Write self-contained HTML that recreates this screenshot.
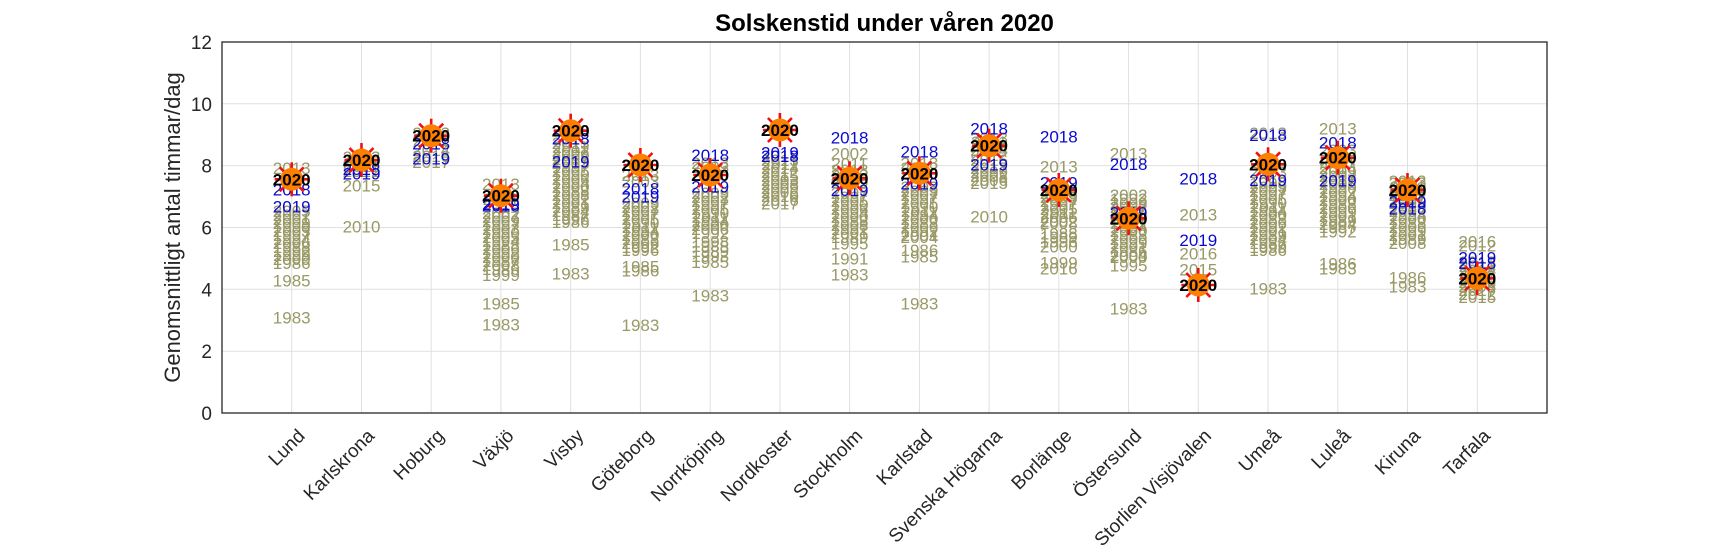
<!DOCTYPE html>
<html><head><meta charset="utf-8"><style>
html,body{margin:0;padding:0;background:#fff;width:1709px;height:557px;overflow:hidden}
svg{display:block}
text{font-family:"Liberation Sans",Helvetica,Arial,sans-serif}
.ol text{fill:#999966;font-size:17px;text-anchor:middle}
.bl text{fill:#0a0acf;font-size:17px;text-anchor:middle}
.yr text{fill:#000;font-size:17px;font-weight:bold;text-anchor:middle}
.xt text{fill:#262626;font-size:19px;text-anchor:end}
</style></head><body>
<svg width="1709" height="557" viewBox="0 0 1709 557" xmlns="http://www.w3.org/2000/svg">
<defs>
<g id="sun">
<g stroke="#f01010" stroke-width="2.6">
<line x1="-17" y1="0" x2="17" y2="0"/><line x1="0" y1="-17" x2="0" y2="17"/>
<line x1="-12" y1="-12" x2="12" y2="12"/><line x1="-12" y1="12" x2="12" y2="-12"/>
</g>
<circle r="11.5" fill="#ff7f00"/>
</g>
</defs>
<rect width="1709" height="557" fill="#fff"/>
<!-- grid -->
<g stroke="#e0e0e0" stroke-width="1">
<line x1="222" x2="1547" y1="351.2" y2="351.2"/><line x1="222" x2="1547" y1="289.3" y2="289.3"/>
<line x1="222" x2="1547" y1="227.5" y2="227.5"/><line x1="222" x2="1547" y1="165.6" y2="165.6"/>
<line x1="222" x2="1547" y1="103.8" y2="103.8"/>
<line y1="42" y2="413" x1="291.7" x2="291.7"/><line y1="42" y2="413" x1="361.5" x2="361.5"/>
<line y1="42" y2="413" x1="431.2" x2="431.2"/><line y1="42" y2="413" x1="500.9" x2="500.9"/>
<line y1="42" y2="413" x1="570.7" x2="570.7"/><line y1="42" y2="413" x1="640.4" x2="640.4"/>
<line y1="42" y2="413" x1="710.2" x2="710.2"/><line y1="42" y2="413" x1="779.9" x2="779.9"/>
<line y1="42" y2="413" x1="849.6" x2="849.6"/><line y1="42" y2="413" x1="919.4" x2="919.4"/>
<line y1="42" y2="413" x1="989.1" x2="989.1"/><line y1="42" y2="413" x1="1058.8" x2="1058.8"/>
<line y1="42" y2="413" x1="1128.6" x2="1128.6"/><line y1="42" y2="413" x1="1198.3" x2="1198.3"/>
<line y1="42" y2="413" x1="1268.1" x2="1268.1"/><line y1="42" y2="413" x1="1337.8" x2="1337.8"/>
<line y1="42" y2="413" x1="1407.5" x2="1407.5"/><line y1="42" y2="413" x1="1477.3" x2="1477.3"/>
</g>
<rect x="222" y="42" width="1325" height="371" fill="none" stroke="#262626" stroke-width="1.3"/>
<!-- y ticks -->
<g fill="#262626" font-size="19" text-anchor="end">
<text x="212" y="420">0</text><text x="212" y="358.2">2</text><text x="212" y="296.3">4</text>
<text x="212" y="234.5">6</text><text x="212" y="172.6">8</text><text x="212" y="110.8">10</text>
<text x="212" y="49">12</text>
</g>
<text transform="translate(180,227.5) rotate(-90)" text-anchor="middle" font-size="22" fill="#262626">Genomsnittligt antal timmar/dag</text>
<text x="884.5" y="31" text-anchor="middle" font-size="24" font-weight="bold" fill="#000">Solskenstid under våren 2020</text>
<!-- x tick labels -->
<g class="xt">
<text transform="translate(306,437) rotate(-45)">Lund</text>
<text transform="translate(375.5,437) rotate(-45)">Karlskrona</text>
<text transform="translate(445.2,437) rotate(-45)">Hoburg</text>
<text transform="translate(514.9,437) rotate(-45)">Växjö</text>
<text transform="translate(584.7,437) rotate(-45)">Visby</text>
<text transform="translate(654.4,437) rotate(-45)">Göteborg</text>
<text transform="translate(724.2,437) rotate(-45)">Norrköping</text>
<text transform="translate(793.9,437) rotate(-45)">Nordkoster</text>
<text transform="translate(863.6,437) rotate(-45)">Stockholm</text>
<text transform="translate(933.4,437) rotate(-45)">Karlstad</text>
<text transform="translate(1003.1,437) rotate(-45)">Svenska Högarna</text>
<text transform="translate(1072.8,437) rotate(-45)">Borlänge</text>
<text transform="translate(1142.6,437) rotate(-45)">Östersund</text>
<text transform="translate(1212.3,437) rotate(-45)">Storlien Visjövalen</text>
<text transform="translate(1282.1,437) rotate(-45)">Umeå</text>
<text transform="translate(1351.8,437) rotate(-45)">Luleå</text>
<text transform="translate(1421.5,437) rotate(-45)">Kiruna</text>
<text transform="translate(1491.3,437) rotate(-45)">Tarfala</text>
</g>
<!-- olive years -->
<g class="ol">
<g transform="translate(291.7,6)">
<text y="168">2013</text><text y="211">2005</text><text y="215">2007</text><text y="219">2001</text><text y="223">2009</text><text y="227">1990</text><text y="231">2003</text><text y="235">1997</text><text y="239">1994</text><text y="243">2006</text><text y="247">1988</text><text y="251">1992</text><text y="255">1999</text><text y="259">2000</text><text y="263">1986</text><text y="280.7">1985</text><text y="317.7">1983</text>
</g>
<g transform="translate(361.5,6)">
<text y="157">2013</text><text y="166">2011</text><text y="171">2012</text><text y="185.7">2015</text><text y="226.7">2010</text>
</g>
<g transform="translate(431.2,6)">
<text y="133">2013</text><text y="140">2011</text><text y="150">2014</text><text y="156">2016</text><text y="162">2017</text>
</g>
<g transform="translate(500.9,6)">
<text y="184">2013</text><text y="199">2011</text><text y="213">2002</text><text y="217">2007</text><text y="221">2009</text><text y="225">1997</text><text y="229">2003</text><text y="233">1990</text><text y="237">2005</text><text y="241">1994</text><text y="245">1988</text><text y="249">2006</text><text y="253">1992</text><text y="257">2000</text><text y="261">1987</text><text y="265">2008</text><text y="269">1986</text><text y="275">1999</text><text y="303.3">1985</text><text y="324.3">1983</text>
</g>
<g transform="translate(570.7,6)">
<text y="143">2013</text><text y="147">2011</text><text y="151">2002</text><text y="155">2009</text><text y="159">2007</text><text y="163">2003</text><text y="167">1997</text><text y="171">2005</text><text y="175">1990</text><text y="179">2006</text><text y="183">1994</text><text y="187">2000</text><text y="191">1988</text><text y="195">2008</text><text y="199">1992</text><text y="203">2001</text><text y="207">1989</text><text y="211">2004</text><text y="215">1987</text><text y="219">1996</text><text y="222">1986</text><text y="244.3">1985</text><text y="273.3">1983</text>
</g>
<g transform="translate(640.4,6)">
<text y="175">2013</text><text y="181.7">2003</text><text y="203">2009</text><text y="207">2002</text><text y="211">2007</text><text y="215">1997</text><text y="219">2005</text><text y="223">1990</text><text y="227">2011</text><text y="231">1994</text><text y="235">2000</text><text y="239">1988</text><text y="243">2006</text><text y="247">1992</text><text y="250">1996</text><text y="266.7">1985</text><text y="270.7">1986</text><text y="325">1983</text>
</g>
<g transform="translate(710.2,6)">
<text y="163">2013</text><text y="167">2003</text><text y="193">2009</text><text y="197">2002</text><text y="201">2007</text><text y="205">1997</text><text y="209">2005</text><text y="213">1990</text><text y="217">2011</text><text y="221">1994</text><text y="225">2000</text><text y="229">2006</text><text y="233">1992</text><text y="241.7">1998</text><text y="246">1988</text><text y="251">1989</text><text y="256">1993</text><text y="262">1985</text><text y="295.7">1983</text>
</g>
<g transform="translate(779.9,6)">
<text y="160">2013</text><text y="164">2011</text><text y="168">2014</text><text y="172">2012</text><text y="176">2015</text><text y="180">2003</text><text y="184">2008</text><text y="188">2009</text><text y="192">2006</text><text y="196">2010</text><text y="200">2016</text><text y="203.3">2017</text>
</g>
<g transform="translate(849.6,6)">
<text y="153.3">2002</text><text y="163.3">2011</text><text y="170">2013</text><text y="175">2003</text><text y="182">2009</text><text y="193">2007</text><text y="197">1997</text><text y="201">2005</text><text y="205">1990</text><text y="209">2006</text><text y="213">1994</text><text y="217">2000</text><text y="221">1988</text><text y="225">2008</text><text y="229">1992</text><text y="233">2001</text><text y="237">1989</text><text y="243.3">1995</text><text y="258.3">1991</text><text y="274.3">1983</text>
</g>
<g transform="translate(919.4,6)">
<text y="163">2013</text><text y="168">2002</text><text y="187">2003</text><text y="191">2009</text><text y="195">2007</text><text y="199">1997</text><text y="203">2005</text><text y="207">1990</text><text y="211">2011</text><text y="215">1994</text><text y="219">2000</text><text y="223">1988</text><text y="227">2006</text><text y="231">1992</text><text y="235">2001</text><text y="237">2004</text><text y="250">1986</text><text y="256.7">1985</text><text y="303.3">1983</text>
</g>
<g transform="translate(989.1,6)">
<text y="138">2013</text><text y="142">2011</text><text y="150">2014</text><text y="155">2012</text><text y="160">2016</text><text y="168">2017</text><text y="172">2009</text><text y="176">2008</text><text y="180">2006</text><text y="183">2015</text><text y="216.7">2010</text>
</g>
<g transform="translate(1058.8,6)">
<text y="166.7">2013</text><text y="193">2003</text><text y="197">2009</text><text y="201">2007</text><text y="205">1997</text><text y="209">2005</text><text y="213">2011</text><text y="217">2006</text><text y="221">2002</text><text y="223">2008</text><text y="233.3">1988</text><text y="237">1989</text><text y="241.7">1996</text><text y="246.7">2000</text><text y="262.7">1999</text><text y="268.3">2016</text>
</g>
<g transform="translate(1128.6,6)">
<text y="153.3">2013</text><text y="195">2002</text><text y="199">1992</text><text y="203">2009</text><text y="207">2007</text><text y="211">1997</text><text y="215">2005</text><text y="219">1990</text><text y="223">2011</text><text y="227">1994</text><text y="231">2000</text><text y="235">1988</text><text y="239">2006</text><text y="243">1999</text><text y="247">2001</text><text y="251">1986</text><text y="255">2004</text><text y="257">2000</text><text y="265.7">1995</text><text y="308.3">1983</text>
</g>
<g transform="translate(1198.3,6)">
<text y="214.3">2013</text><text y="253.3">2016</text><text y="269.3">2015</text>
</g>
<g transform="translate(1268.1,6)">
<text y="133">2013</text><text y="172">2003</text><text y="183">1996</text><text y="187">2009</text><text y="191">2007</text><text y="195">1997</text><text y="199">2005</text><text y="203">1990</text><text y="207">2011</text><text y="211">1994</text><text y="215">2000</text><text y="219">1988</text><text y="223">2006</text><text y="227">1992</text><text y="231">2001</text><text y="235">1989</text><text y="239">2004</text><text y="243">1987</text><text y="247">1999</text><text y="250">1986</text><text y="288.3">1983</text>
</g>
<g transform="translate(1337.8,6)">
<text y="128.3">2013</text><text y="150">2003</text><text y="162">2011</text><text y="168">2014</text><text y="172">2009</text><text y="176">2007</text><text y="180">1997</text><text y="184">2005</text><text y="188">1990</text><text y="192">2002</text><text y="196">1994</text><text y="200">2000</text><text y="204">1988</text><text y="208">2006</text><text y="212">1999</text><text y="216">2001</text><text y="220">1989</text><text y="224">2004</text><text y="227">1987</text><text y="231.7">1992</text><text y="263.3">1986</text><text y="268.3">1983</text>
</g>
<g transform="translate(1407.5,6)">
<text y="181">2013</text><text y="183">2003</text><text y="187">2011</text><text y="191">2009</text><text y="195">2007</text><text y="199">1997</text><text y="203">2005</text><text y="207">1990</text><text y="211">2002</text><text y="215">1994</text><text y="219">2000</text><text y="223">1988</text><text y="227">2006</text><text y="231">1999</text><text y="235">2001</text><text y="239">1989</text><text y="243">2008</text><text y="277.3">1986</text><text y="286.7">1983</text>
</g>
<g transform="translate(1477.3,6)">
<text y="241.3">2016</text><text y="245.7">2012</text><text y="262">2013</text><text y="266">2011</text><text y="270">2014</text><text y="274">2017</text><text y="278">2010</text><text y="282">2009</text><text y="286">2008</text><text y="290">2017</text><text y="294">2012</text><text y="297">2015</text>
</g>
</g>
<!-- blue years -->
<g class="bl">
<g transform="translate(291.7,6)"><text y="189.3">2018</text><text y="206.7">2019</text></g>
<g transform="translate(361.5,6)"><text y="169">2018</text><text y="173.3">2019</text></g>
<g transform="translate(431.2,6)"><text y="143.3">2018</text><text y="158.3">2019</text></g>
<g transform="translate(500.9,6)"><text y="205.7">2018</text><text y="204">2019</text></g>
<g transform="translate(570.7,6)"><text y="138.3">2018</text><text y="161.7">2019</text></g>
<g transform="translate(640.4,6)"><text y="188.3">2018</text><text y="196.7">2019</text></g>
<g transform="translate(710.2,6)"><text y="155">2018</text><text y="186.7">2019</text></g>
<g transform="translate(779.9,6)"><text y="156">2018</text><text y="152.7">2019</text></g>
<g transform="translate(849.6,6)"><text y="137.3">2018</text><text y="190">2019</text></g>
<g transform="translate(919.4,6)"><text y="151.7">2018</text><text y="183.3">2019</text></g>
<g transform="translate(989.1,6)"><text y="128.3">2018</text><text y="164.3">2019</text></g>
<g transform="translate(1058.8,6)"><text y="136.7">2018</text><text y="182.7">2019</text></g>
<g transform="translate(1128.6,6)"><text y="164">2018</text><text y="212.7">2019</text></g>
<g transform="translate(1198.3,6)"><text y="178.3">2018</text><text y="240">2019</text></g>
<g transform="translate(1268.1,6)"><text y="135">2018</text><text y="180">2019</text></g>
<g transform="translate(1337.8,6)"><text y="142.3">2018</text><text y="180.7">2019</text></g>
<g transform="translate(1407.5,6)"><text y="208.3">2018</text><text y="201.7">2019</text></g>
<g transform="translate(1477.3,6)"><text y="263">2018</text><text y="257.6">2019</text></g>
</g>
<!-- 2020 markers -->
<use href="#sun" x="291.7" y="179.3"/>
<use href="#sun" x="361.5" y="160"/>
<use href="#sun" x="431.2" y="135.7"/>
<use href="#sun" x="500.9" y="195.7"/>
<use href="#sun" x="570.7" y="130.7"/>
<use href="#sun" x="640.4" y="165"/>
<use href="#sun" x="710.2" y="175"/>
<use href="#sun" x="779.9" y="130"/>
<use href="#sun" x="849.6" y="178.3"/>
<use href="#sun" x="919.4" y="173.3"/>
<use href="#sun" x="989.1" y="145.7"/>
<use href="#sun" x="1058.8" y="190"/>
<use href="#sun" x="1128.6" y="218.3"/>
<use href="#sun" x="1198.3" y="285"/>
<use href="#sun" x="1268.1" y="164.3"/>
<use href="#sun" x="1337.8" y="157.7"/>
<use href="#sun" x="1407.5" y="190"/>
<use href="#sun" x="1477.3" y="278.3"/>
<g class="yr">
<text x="291.7" y="185.3">2020</text>
<text x="361.5" y="166">2020</text>
<text x="431.2" y="141.7">2020</text>
<text x="500.9" y="201.7">2020</text>
<text x="570.7" y="136.7">2020</text>
<text x="640.4" y="171">2020</text>
<text x="710.2" y="181">2020</text>
<text x="779.9" y="136">2020</text>
<text x="849.6" y="184.3">2020</text>
<text x="919.4" y="179.3">2020</text>
<text x="989.1" y="151.7">2020</text>
<text x="1058.8" y="196">2020</text>
<text x="1128.6" y="224.3">2020</text>
<text x="1198.3" y="291">2020</text>
<text x="1268.1" y="170.3">2020</text>
<text x="1337.8" y="163.7">2020</text>
<text x="1407.5" y="196">2020</text>
<text x="1477.3" y="284.3">2020</text>
</g>
</svg>
</body></html>
